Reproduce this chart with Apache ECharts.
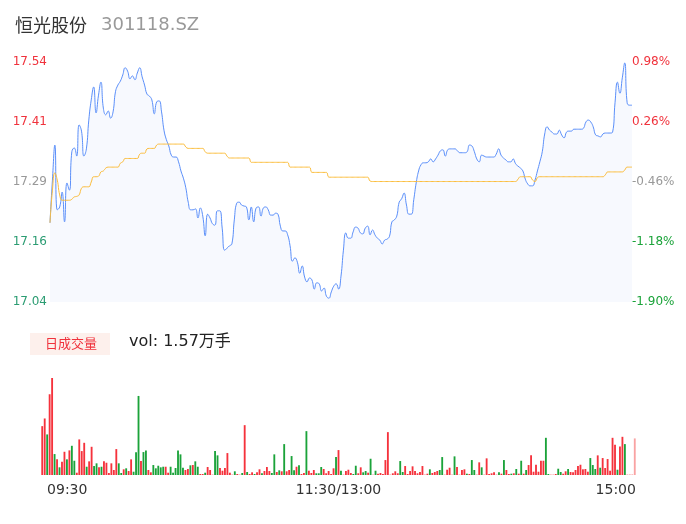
<!DOCTYPE html>
<html><head><meta charset="utf-8">
<script src="https://cdn.jsdelivr.net/npm/echarts@6/dist/echarts.min.js"></script>
<style>html,body{margin:0;padding:0;background:#fff}#c{width:686px;height:524px}</style>
</head><body><div id="c"></div>
<script>
const stockName = '恒光股份';
const stockCode = '301118.SZ';
const priceTicks = ['17.04', '17.16', '17.29', '17.41', '17.54'];
const pctTicks = ['-1.90%', '-1.18%', '-0.46%', '0.26%', '0.98%'];
const timeTickIdx = [0, 120, 240];
const timeTicks = ['09:30', '11:30/13:00', '15:00'];
const volLabel = '日成交量';
const volText = 'vol: 1.57万手';

const price = [
17.205,17.294,17.367,17.232,17.238,17.269,17.207,17.288,17.273,17.353,
17.361,17.344,17.409,17.396,17.344,17.359,17.419,17.461,17.488,17.434,
17.471,17.498,17.444,17.430,17.438,17.423,17.436,17.478,17.492,17.500,
17.513,17.528,17.521,17.505,17.511,17.503,17.517,17.528,17.509,17.492,
17.473,17.469,17.461,17.432,17.457,17.459,17.436,17.398,17.378,17.365,
17.346,17.342,17.342,17.332,17.313,17.298,17.278,17.248,17.232,17.232,
17.234,17.215,17.236,17.219,17.178,17.223,17.215,17.203,17.200,17.230,
17.230,17.194,17.148,17.152,17.157,17.161,17.211,17.246,17.248,17.242,
17.240,17.238,17.211,17.238,17.207,17.236,17.238,17.219,17.236,17.238,
17.232,17.221,17.221,17.225,17.223,17.198,17.188,17.188,17.180,17.157,
17.125,17.132,17.123,17.100,17.115,17.092,17.082,17.090,17.086,17.067,
17.080,17.078,17.063,17.069,17.052,17.048,17.061,17.073,17.078,17.067,
17.094,17.148,17.184,17.173,17.173,17.186,17.196,17.194,17.184,17.182,
17.194,17.198,17.180,17.190,17.180,17.173,17.169,17.161,17.169,17.171,
17.177,17.207,17.211,17.219,17.248,17.255,17.267,17.242,17.223,17.223,
17.253,17.288,17.313,17.326,17.330,17.330,17.332,17.338,17.332,17.338,
17.346,17.355,17.357,17.344,17.357,17.359,17.359,17.359,17.355,17.351,
17.351,17.351,17.353,17.367,17.365,17.353,17.338,17.332,17.346,17.344,
17.342,17.342,17.342,17.342,17.348,17.359,17.346,17.340,17.336,17.332,
17.332,17.338,17.328,17.323,17.319,17.313,17.296,17.286,17.282,17.282,
17.294,17.313,17.332,17.353,17.390,17.405,17.398,17.394,17.390,17.390,
17.398,17.388,17.382,17.394,17.396,17.396,17.400,17.400,17.400,17.400,
17.402,17.415,17.419,17.415,17.405,17.388,17.386,17.384,17.390,17.392,
17.392,17.392,17.394,17.455,17.498,17.475,17.507,17.538,17.455,17.450,
17.450];

const avgPrice = [
17.205,17.273,17.309,17.294,17.263,17.252,17.252,17.252,17.252,17.254,
17.259,17.260,17.263,17.277,17.280,17.280,17.280,17.290,17.301,17.301,
17.302,17.311,17.313,17.319,17.321,17.321,17.321,17.321,17.321,17.329,
17.332,17.339,17.339,17.339,17.339,17.339,17.339,17.348,17.350,17.350,
17.359,17.360,17.360,17.360,17.367,17.369,17.369,17.369,17.369,17.369,
17.369,17.369,17.369,17.369,17.369,17.369,17.363,17.360,17.360,17.360,
17.360,17.360,17.360,17.360,17.353,17.350,17.350,17.350,17.350,17.350,
17.350,17.350,17.350,17.344,17.340,17.340,17.340,17.340,17.340,17.340,
17.340,17.340,17.340,17.331,17.331,17.331,17.331,17.331,17.331,17.331,
17.331,17.331,17.331,17.331,17.331,17.331,17.331,17.331,17.331,17.321,
17.321,17.321,17.321,17.321,17.321,17.321,17.321,17.321,17.310,17.310,
17.310,17.310,17.310,17.310,17.310,17.300,17.300,17.300,17.300,17.300,
17.300,17.300,17.300,17.300,17.300,17.300,17.300,17.300,17.300,17.300,
17.300,17.300,17.292,17.291,17.291,17.291,17.291,17.291,17.291,17.291,
17.291,17.291,17.291,17.291,17.291,17.291,17.291,17.291,17.291,17.291,
17.291,17.291,17.291,17.291,17.291,17.291,17.291,17.291,17.291,17.291,
17.291,17.291,17.291,17.291,17.291,17.291,17.291,17.291,17.291,17.291,
17.291,17.291,17.291,17.291,17.291,17.291,17.291,17.291,17.291,17.291,
17.291,17.291,17.291,17.291,17.291,17.291,17.291,17.291,17.291,17.291,
17.291,17.291,17.291,17.296,17.301,17.301,17.301,17.301,17.301,17.294,
17.291,17.299,17.301,17.301,17.301,17.301,17.301,17.301,17.301,17.301,
17.301,17.301,17.301,17.301,17.301,17.301,17.301,17.301,17.301,17.301,
17.301,17.301,17.301,17.301,17.301,17.301,17.301,17.301,17.301,17.305,
17.311,17.311,17.311,17.311,17.311,17.311,17.311,17.315,17.321,17.321,
17.321];

const volume = [
49,56.7,40.7,81,97.3,21,15.7,7.7,13.3,23.3,
15.7,24.7,29.3,14.3,2.3,35.7,24,32.3,8.3,13.7,
28.3,9,11.7,7.7,8.3,13.7,12.3,2,11.7,5,
26,11.7,2,5.7,6.7,4,15.7,3.3,22.7,79.3,
14,23,24.7,5,2.7,10,6.7,9.3,7.7,8.3,
8.3,2.3,8.3,2.3,7,24.7,20.7,7.3,5,6,
9.7,10,13.7,8.3,1,1,2.3,8,5,0.3,
24,19.7,7,4.3,7,22,2.3,0.3,3.7,1,
0.3,2,50,3,1,2.7,1,2.7,5.7,1.7,
4,8,4,2,20.7,3,4.7,3.7,31,3.7,
5,19,4.7,8.3,9.7,1,2,44,4.3,2,
5,1.7,1.7,8,6,1.7,4,1,6.7,18,
25,4.3,0.3,4,5.3,2,1,9.3,1.7,7.7,
2.7,4,2.3,16.3,0.3,4.3,1.3,2,1,15,
43,0.3,1.7,3.7,1.7,14,3,9,1,4,
8.7,4,1.7,3,9,0.3,1.3,5.7,2,3,
4,5,18,0.3,5.3,7.3,0.3,18.7,8,0.3,
5,5.7,1.3,1,15,5,0.3,12.7,7.7,0.3,
16.7,1,1.7,2.7,0.3,2.7,1.3,15,5,1,
1.3,1.7,6,1.3,14.3,1.3,5,10,19.7,3.3,
10.3,3.3,14.3,14.3,37.3,1,0.3,0.3,1,6.3,
3,1.3,3.7,6,3,2.7,5,9,10.3,5.7,
6,3.3,17,10,6,19.7,7.3,17,7,16,
4.3,37.3,30.3,5.3,28.7,38.3,31,0.3,0.3,0.3,
36.7];

// 1 = up (red), -1 = down (green), 0 = last/current (pale)
const volDir = [
1,1,-1,1,1,-1,1,-1,1,1,
-1,1,-1,-1,1,1,1,1,-1,1,
1,-1,-1,1,-1,1,1,1,1,1,
1,-1,-1,1,-1,1,1,-1,-1,-1,
1,-1,-1,1,1,-1,-1,-1,-1,-1,
1,1,-1,-1,-1,-1,-1,-1,1,1,
-1,1,-1,-1,1,1,-1,1,1,1,
-1,-1,1,1,1,1,1,1,-1,1,
1,-1,1,-1,1,1,-1,1,1,-1,
1,1,1,-1,-1,1,-1,1,-1,1,
1,-1,-1,1,-1,1,1,-1,1,1,
1,-1,-1,-1,1,1,1,1,1,-1,
1,-1,1,1,1,1,-1,-1,1,1,
-1,-1,1,-1,1,-1,1,1,1,1,
1,1,1,1,1,-1,-1,1,1,1,
1,1,1,1,1,1,1,-1,1,1,
1,-1,-1,1,1,1,1,-1,1,1,
1,1,-1,1,-1,-1,1,1,-1,1,
1,1,1,1,1,-1,1,-1,1,1,
-1,1,-1,1,-1,1,-1,1,1,1,
1,1,1,1,-1,-1,1,1,1,-1,
-1,1,1,-1,1,1,1,1,1,1,
1,1,-1,-1,-1,1,-1,1,1,1,
1,1,1,-1,1,1,-1,1,1,1,
0];

const UP = '#f5323c', DOWN = '#1ba33a', PALE = '#f9a3a3';
const cats = price.map((_, i) => i);
const leftColors = ['#2b9c72', '#2b9c72', '#999999', '#f0323c', '#f0323c'];
const rightColors = ['#1ba33a', '#1ba33a', '#999999', '#f0323c', '#f0323c'];

const chart = echarts.init(document.getElementById('c'), null, {renderer: 'canvas'});
const option = {
  animation: false,
  backgroundColor: '#ffffff',
  textStyle: {fontFamily: 'DejaVu Sans, "Noto Sans CJK SC", sans-serif'},
  title: [
    {text: stockName, left: 15, top: 16, padding: 0,
     textStyle: {fontSize: 18, fontWeight: 'normal', color: '#333333', fontFamily: '"Noto Sans CJK SC", sans-serif'}},
    {text: stockCode, left: 101, top: 16, padding: 0,
     textStyle: {fontSize: 18, fontWeight: 'normal', color: '#999999', fontFamily: 'DejaVu Sans, sans-serif'}}
  ],
  graphic: [
    {type: 'rect', left: 30, top: 333, shape: {width: 80, height: 22}, style: {fill: '#fdf0ec'}},
    {type: 'text', x: 45, y: 343, style: {text: volLabel, fill: '#f0323c', fontSize: 13,
      verticalAlign: 'middle', fontFamily: '"Noto Sans CJK SC", sans-serif'}},
    {type: 'text', x: 129, y: 342, style: {text: volText, fill: '#222222', fontSize: 16,
      verticalAlign: 'middle', fontFamily: 'DejaVu Sans, "Noto Sans CJK SC", sans-serif'}}
  ],
  grid: [
    {left: 50, right: 54, top: 62, height: 240},
    {left: 41, right: 50, top: 378, height: 97}
  ],
  xAxis: [
    {type: 'category', gridIndex: 0, data: cats, boundaryGap: false, show: false},
    {type: 'category', gridIndex: 1, data: cats, boundaryGap: true,
     axisLine: {show: false}, axisTick: {show: false}, splitLine: {show: false},
     axisLabel: {
       interval: (i) => timeTickIdx.indexOf(i) >= 0,
       margin: 8,
       formatter: (v, i) => {
         const k = timeTickIdx.indexOf(Number(v));
         if (k === 0) return '{l|' + timeTicks[k] + '}';
         if (k === timeTicks.length - 1) return '{r|' + timeTicks[k] + '}';
         return '{m|' + timeTicks[k] + '}';
       },
       rich: {
         l: {fontSize: 14, color: '#333', padding: [0, 0, 0, 50]},
         m: {fontSize: 14, color: '#333'},
         r: {fontSize: 14, color: '#333', padding: [0, 38, 0, 0]}
       }
     }}
  ],
  yAxis: [
    {type: 'value', gridIndex: 0, min: 17.04, max: 17.54, show: false},
    {type: 'value', gridIndex: 0, min: 0, max: 4, interval: 1, position: 'left',
     axisLine: {show: false}, axisTick: {show: false}, splitLine: {show: false},
     axisLabel: {margin: 3, fontSize: 12, formatter: (v) => priceTicks[v],
       color: (v, i) => leftColors[Number(v)]}},
    {type: 'value', gridIndex: 0, min: 0, max: 4, interval: 1, position: 'right',
     axisLine: {show: false}, axisTick: {show: false}, splitLine: {show: false},
     axisLabel: {margin: 0, fontSize: 12, formatter: (v) => pctTicks[v],
       color: (v, i) => rightColors[Number(v)]}},
    {type: 'value', gridIndex: 1, min: 0, max: 'dataMax', show: false}
  ],
  series: [
    {type: 'line', xAxisIndex: 0, yAxisIndex: 0, data: price, smooth: true, symbol: 'none',
     lineStyle: {color: '#5b8ff9', width: 1}, areaStyle: {color: '#f7f9fe', origin: 'start', opacity: 1}, z: 3},
    {type: 'line', xAxisIndex: 0, yAxisIndex: 0, data: avgPrice, smooth: true, symbol: 'none',
     lineStyle: {color: '#fbbd3c', width: 1}, z: 4},
    {type: 'bar', xAxisIndex: 1, yAxisIndex: 3, barWidth: '75%',
     data: volume.map((v, i) => ({value: v, itemStyle: {color: volDir[i] > 0 ? UP : (volDir[i] < 0 ? DOWN : PALE)}}))}
  ]
};
chart.setOption(option);
</script>
</body></html>
